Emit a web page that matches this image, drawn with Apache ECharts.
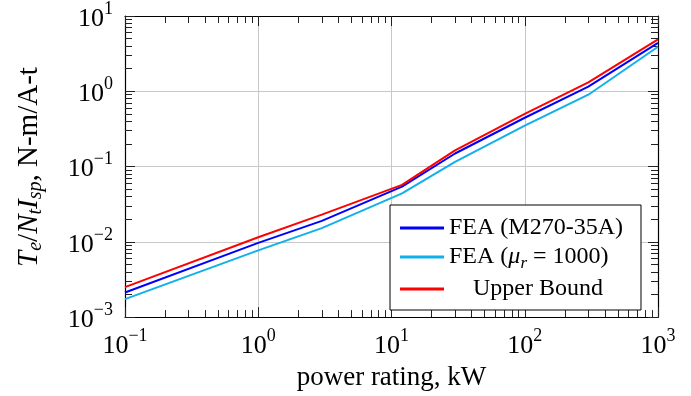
<!DOCTYPE html>
<html>
<head>
<meta charset="utf-8">
<script src="https://cdn.jsdelivr.net/npm/echarts@6/dist/echarts.min.js"></script>
<style>
  html, body { margin: 0; padding: 0; background: #fff; }
  #chart { width: 691px; height: 396px; }
</style>
</head>
<body>
<div id="chart"></div>
<script>
// power rating, kW
const powerKW = [0.1, 1, 3, 12, 30, 100, 300, 1000];
// Te / (Nt Isp), N-m/A-t
const feaM270 = [0.00212, 0.0097, 0.019, 0.054, 0.149, 0.445, 1.15, 4.4];
const feaMu1000 = [0.00173, 0.0077, 0.0152, 0.044, 0.115, 0.35, 0.90, 3.9];
const upperBound = [0.0025, 0.0115, 0.023, 0.057, 0.164, 0.50, 1.31, 4.9];

const seriesNames = ['FEA (M270-35A)', 'FEA (\u03bcr = 1000)', 'Upper Bound'];
const seriesColors = ['#0000ff', '#12b0ea', '#ff0000'];

const FONT = '"Liberation Serif", "DejaVu Serif", serif';

const chart = echarts.init(document.getElementById('chart'));

const pairs = (ys) => powerKW.map((x, i) => [x, ys[i]]);

// 10^n labels with superscript exponent
const powLabel = (v) => {
  const e = Math.round(Math.log10(v));
  return '{b|10}{s|' + (e < 0 ? '\u2212' + (-e) : e) + '}';
};
const powRich = {
  b: { fontFamily: FONT, fontSize: 26, color: '#000', verticalAlign: 'bottom', lineHeight: 32 },
  s: { fontFamily: FONT, fontSize: 18, color: '#000', verticalAlign: 'top', lineHeight: 32 }
};

const tickStyle = { color: '#222', width: 1 };

const baseAxis = {
  type: 'log',
  logBase: 10,
  axisLine: { show: true, onZero: false, lineStyle: { color: '#000', width: 1.2 } },
  axisTick: { show: true, inside: true, length: 10, lineStyle: tickStyle },
  minorTick: { show: true, splitNumber: 9, length: 7, lineStyle: tickStyle },
  splitLine: { show: false },
  minorSplitLine: { show: false }
};

const legendText = {
  fontFamily: FONT,
  fontSize: 24,
  color: '#000',
  rich: {
    m: { fontFamily: FONT, fontSize: 24, fontStyle: 'italic', color: '#000' },
    r: { fontFamily: FONT, fontSize: 17, fontStyle: 'italic', color: '#000', verticalAlign: 'bottom', lineHeight: 30 },
    c: { fontFamily: FONT, fontSize: 24, color: '#000', width: 178, align: 'center' }
  }
};

const option = {
  animation: false,
  backgroundColor: '#fff',
  grid: { left: 125, top: 15, right: 33, bottom: 78, containLabel: false },
  legend: {
    orient: 'vertical',
    left: 390,
    top: 205,
    padding: [11, 18, 9, 10],
    backgroundColor: '#fff',
    borderColor: '#000',
    borderWidth: 1,
    borderRadius: 0,
    itemWidth: 44,
    itemHeight: 3,
    itemGap: 5,
    icon: 'rect',
    data: seriesNames,
    textStyle: legendText,
    formatter: (name) => {
      if (name === seriesNames[1]) return 'FEA ({m|\u03bc}{r|r} = 1000)';
      if (name === seriesNames[2]) return '{c|' + name + '}';
      return name;
    }
  },
  graphic: [{
    type: 'text',
    x: 29,
    y: 167,
    rotation: Math.PI / 2,
    style: {
      text: '{i|T}{sb|e}{n|/}{i|N}{sb|t}{i|I}{sb|sp}{n|, N-m/A-t}',
      align: 'center',
      verticalAlign: 'middle',
      rich: {
        i: { fontFamily: FONT, fontSize: 29, fontStyle: 'italic', fill: '#000', verticalAlign: 'middle', lineHeight: 34 },
        sb: { fontFamily: FONT, fontSize: 20, fontStyle: 'italic', fill: '#000', verticalAlign: 'bottom', lineHeight: 34 },
        n: { fontFamily: FONT, fontSize: 29, fill: '#000', verticalAlign: 'middle', lineHeight: 34 }
      }
    }
  }],
  xAxis: [
    Object.assign({}, baseAxis, {
      min: 0.1, max: 1000,
      position: 'bottom',
      splitLine: { show: true, lineStyle: { color: '#c8c8c8', width: 1 } },
      axisLabel: { margin: 10, formatter: powLabel, rich: powRich },
      name: 'power rating, kW',
      nameLocation: 'middle',
      nameGap: 44,
      nameTextStyle: { fontFamily: FONT, fontSize: 27, color: '#000' }
    }),
    Object.assign({}, baseAxis, {
      min: 0.1, max: 1000,
      position: 'top',
      axisLabel: { show: false }
    })
  ],
  yAxis: [
    Object.assign({}, baseAxis, {
      min: 0.001, max: 10,
      position: 'left',
      splitLine: { show: true, lineStyle: { color: '#c8c8c8', width: 1 } },
      axisLabel: { margin: 12, formatter: powLabel, rich: powRich }
    }),
    Object.assign({}, baseAxis, {
      min: 0.001, max: 10,
      position: 'right',
      axisLabel: { show: false }
    })
  ],
  series: [feaM270, feaMu1000, upperBound].map((ys, i) => ({
    name: seriesNames[i],
    type: 'line',
    data: pairs(ys),
    showSymbol: false,
    symbol: 'none',
    color: seriesColors[i],
    lineStyle: { color: seriesColors[i], width: 2 },
    z: 3
  }))
};

chart.setOption(option);
</script>
</body>
</html>
